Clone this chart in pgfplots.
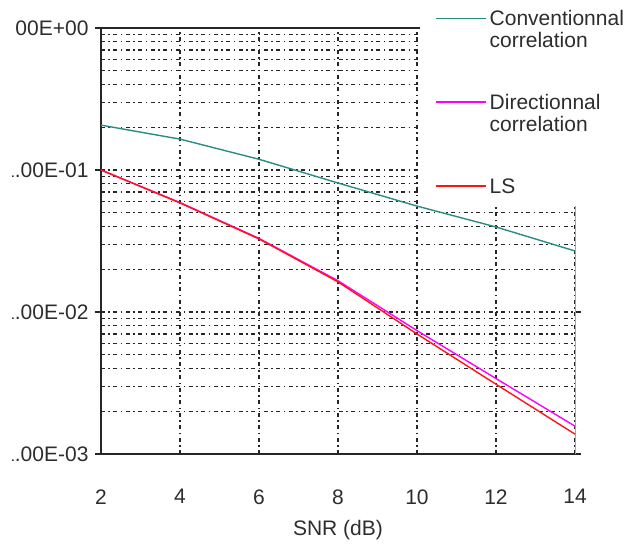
\documentclass[border=0pt]{standalone}
\usepackage{pgfplots}
\pgfplotsset{compat=1.18}
\usepackage{fontspec}
\setmainfont{Liberation Sans}
\definecolor{convc}{RGB}{40,140,130}
\definecolor{dirc}{RGB}{255,0,255}
\definecolor{lsc}{RGB}{255,20,20}
\definecolor{txt}{RGB}{45,45,45}
\begin{document}
\begin{tikzpicture}
\useasboundingbox (0pt,0pt) rectangle (640pt,545pt);
\clip (12pt,0pt) -- (12pt,500pt) -- (16pt,500pt) -- (16pt,545pt) -- (640pt,545pt) -- (640pt,0pt) -- cycle;
\begin{axis}[
  at={(101pt,91pt)}, anchor=south west, scale only axis,
  width=474pt, height=426pt,
  xmin=2, xmax=14, ymode=log, ymin=1e-3, ymax=1,
  xtick={2,4,6,8,10,12,14},
  ytick={0.001,0.01,0.1,1},
  yticklabels={1.00E-03,1.00E-02,1.00E-01,1.00E+00},
  minor ytick={0.002,0.003,0.004,0.005,0.006,0.007,0.008,0.009,
               0.02,0.03,0.04,0.05,0.06,0.07,0.08,0.09,
               0.2,0.3,0.4,0.5,0.6,0.7,0.8,0.9},
  grid=both,
  major grid style={black!85, line width=1.1pt, dash pattern=on 4pt off 3.5pt on 1.5pt off 3.5pt},
  minor grid style={black!85, line width=1.1pt, dash pattern=on 4pt off 3.5pt on 1.5pt off 3.5pt},
  axis line style={draw=none},
  tick align=outside, major tick length=6pt, minor tick length=0pt,
  xtick style={draw=none}, ytick style={black!85, line width=1.3pt},
  tick label style={font=\fontsize{21}{24}\selectfont, text=txt},
  /pgf/number format/assume math mode=true,
  yticklabel style={xshift=-3pt},
  xticklabel style={yshift=-26pt},
  xlabel={SNR (dB)},
  xlabel style={font=\fontsize{21}{24}\selectfont, text=txt, at={(axis description cs:0.5,0)}, anchor=center, yshift=-76pt},
  clip=false,
  legend style={at={(axis description cs:0.7046,1.0477)}, anchor=north west,
    fill=none, draw=none, inner sep=0pt,
    font=\fontsize{21}{22}\selectfont, text=txt, row sep=63pt, column sep=1pt,
    nodes={inner sep=2pt}},
  legend cell align=left,
  legend image code/.code={\draw[#1, line width=1.5pt] (0pt,0pt) -- (50pt,0pt);},
]
\draw[black!85, line width=1.5pt] (rel axis cs:0,0) -- (rel axis cs:0,1);
\draw[black!85, line width=1.5pt] (rel axis cs:0,0) -- (rel axis cs:1,0);
\draw[black!85, line width=1.3pt] (rel axis cs:-0.008,1) -- (rel axis cs:1,1);
\draw[gray!70, line width=1pt] (rel axis cs:1,0) -- (rel axis cs:1,1);
\addplot[convc, line width=1.4pt] coordinates {(2,0.207)(4,0.165)(6,0.119)(8,0.081)(10,0.0557)(12,0.0397)(14,0.0269)};
\addlegendentry{\vtop{\hbox{\strut Conventionnal}\hbox{correlation}}}
\addplot[dirc, line width=1.4pt] coordinates {(2,0.100)(4,0.0590)(6,0.0330)(8,0.0166)(10,0.0074)(12,0.0034)(14,0.00157)};
\addlegendentry{\vtop{\hbox{\strut Directionnal}\hbox{correlation}}}
\addplot[lsc, line width=1.4pt] coordinates {(2,0.100)(4,0.0586)(6,0.0327)(8,0.0163)(10,0.0070)(12,0.0031)(14,0.00138)};
\addlegendentry{\strut LS}
\fill[white] (rel axis cs:0.673,0.583) rectangle (rel axis cs:1.2,1.2);
\end{axis}
\end{tikzpicture}
\end{document}
